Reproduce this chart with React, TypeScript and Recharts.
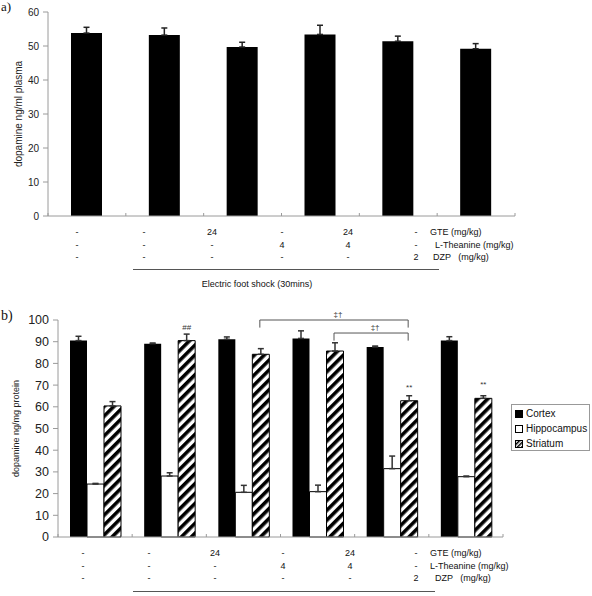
import React from "react";
import { BarChart, Bar, XAxis, YAxis, ErrorBar, LabelList, usePlotArea } from "recharts";

// treatment groups (same six groups in both panels)
const groups = ["G1", "G2", "G3", "G4", "G5", "G6"];
const gteDose = ["-", "-", "24", "-", "24", "-"];
const theanineDose = ["-", "-", "-", "4", "4", "-"];
const dzpDose = ["-", "-", "-", "-", "-", "2"];
const doseLabels = ["GTE (mg/kg)", "L-Theanine (mg/kg)", "DZP   (mg/kg)"];

// panel a: plasma dopamine
const plasmaMean = [53.8, 53.2, 49.7, 53.4, 51.4, 49.2];
const plasmaErr = [1.7, 2.1, 1.4, 2.7, 1.5, 1.5];
const plasmaTicks = [0, 10, 20, 30, 40, 50, 60];

// panel b: brain regions
const cortexMean = [90.5, 89.1, 91.1, 91.5, 87.6, 90.5];
const cortexErr = [2.0, 0.3, 1.1, 3.5, 0.4, 1.8];
const hippoMean = [24.4, 28.1, 20.6, 20.9, 31.5, 27.8];
const hippoErr = [0.3, 1.5, 3.2, 3.0, 5.8, 0.3];
const striatumMean = [60.4, 90.5, 84.2, 85.7, 62.8, 63.9];
const striatumErr = [2.0, 3.0, 2.6, 3.8, 2.3, 1.2];
const striatumMark = ["", "##", "", "", "**", "**"];
const brainTicks = [0, 10, 20, 30, 40, 50, 60, 70, 80, 90, 100];

// significance brackets between striatum bars
const bracketFrom = [2, 3];
const bracketTo = [4, 4];
const bracketLevel = [100, 94];
const bracketLabel = ["‡†", "‡†"];

const plasmaData = groups.map((g, i) => ({
  group: g,
  mean: plasmaMean[i],
  err: [0, plasmaErr[i]],
}));

const brainData = groups.map((g, i) => ({
  group: g,
  cortex: cortexMean[i],
  cortexErr: [0, cortexErr[i]],
  hippo: hippoMean[i],
  hippoErr: [0, hippoErr[i]],
  striatum: striatumMean[i],
  striatumErr: [0, striatumErr[i]],
  mark: striatumMark[i],
}));

const AXIS = "#9a9a9a";
const B_BAR = 17;
const B_MAX = 100;

const BandTicks = ({ n }: { n: number }) => {
  const area = usePlotArea();
  if (!area) return null;
  const band = area.width / n;
  const yb = area.y + area.height;
  return (
    <g>
      {Array.from({ length: n + 1 }, (_, i) => (
        <line key={i} x1={area.x + band * i} x2={area.x + band * i} y1={yb} y2={yb - 3} stroke={AXIS} />
      ))}
    </g>
  );
};

const Brackets = () => {
  const area = usePlotArea();
  if (!area) return null;
  const band = area.width / groups.length;
  const pad = Math.floor((band - 3 * B_BAR) / 2);
  const cx = (i: number) => area.x + band * i + pad + 2.5 * B_BAR;
  const yv = (v: number) => area.y + area.height * (1 - v / B_MAX);
  return (
    <g>
      {bracketFrom.map((from, k) => {
        const x1 = cx(from);
        const x2 = cx(bracketTo[k]);
        const y = yv(bracketLevel[k]);
        const yd = yv(bracketLevel[k] - 3.5);
        return (
          <g key={k}>
            <polyline points={`${x1},${yd} ${x1},${y} ${x2},${y} ${x2},${yd}`} fill="none" stroke="#555" />
            <text x={(x1 + x2) / 2 + 4} y={y - 3} fontSize={8} textAnchor="middle" fill="#333">
              {bracketLabel[k]}
            </text>
          </g>
        );
      })}
    </g>
  );
};

const DoseTable = ({ top, cols, labelX, line }: { top: number; cols: number[]; labelX: number[]; line: number[] }) => {
  const rows = [gteDose, theanineDose, dzpDose];
  return (
    <>
      {rows.map((row, r) => (
        <React.Fragment key={r}>
          {row.map((v, c) => (
            <div
              key={c}
              style={{ position: "absolute", left: cols[c] - 20, width: 40, top: top + r * 12.7 - 6, lineHeight: "12px", textAlign: "center" }}
            >
              {v}
            </div>
          ))}
          <div style={{ position: "absolute", left: labelX[r], top: top + r * 12.7 - 6, lineHeight: "12px", whiteSpace: "pre" }}>
            {doseLabels[r]}
          </div>
        </React.Fragment>
      ))}
      <div style={{ position: "absolute", left: line[0], width: line[1] - line[0], top: line[2], height: 1, background: "#555" }} />
    </>
  );
};

const Swatch = ({ kind }: { kind: string }) => (
  <svg width={8} height={8} style={{ marginRight: 3, verticalAlign: "-1px" }}>
    <defs>
      <pattern id="hatchSmall" patternUnits="userSpaceOnUse" width={3} height={3} patternTransform="rotate(45)">
        <rect width={1.5} height={3} fill="#000" />
      </pattern>
    </defs>
    <rect
      x={0.5}
      y={0.5}
      width={7}
      height={7}
      fill={kind === "c" ? "#000" : kind === "h" ? "#fff" : "url(#hatchSmall)"}
      stroke="#000"
    />
  </svg>
);

export default function App() {
  return (
    <div
      style={{
        position: "absolute",
        left: 0,
        top: 0,
        width: 592,
        height: 596,
        background: "#fff",
        fontFamily: "'Liberation Sans', Arial, sans-serif",
        color: "#111",
        fontSize: 9,
        overflow: "hidden",
      }}
    >
      <div style={{ position: "absolute", left: 1, top: 0, lineHeight: "14px", fontFamily: "'Liberation Serif', serif", fontSize: 13 }}>a)</div>
      <div style={{ position: "absolute", left: 1, top: 308, lineHeight: "16px", fontFamily: "'Liberation Serif', serif", fontSize: 14 }}>b)</div>

      {/* panel a */}
      <div style={{ position: "absolute", left: 0, top: 0 }}>
        <BarChart width={592} height={230} data={plasmaData} margin={{ top: 12, right: 77, bottom: 10, left: 0 }} barCategoryGap="30%">
          <XAxis dataKey="group" tick={false} tickLine={false} height={4} stroke={AXIS} />
          <YAxis
            width={48}
            domain={[0, 60]}
            ticks={plasmaTicks}
            stroke={AXIS}
            tickSize={5}
            tickMargin={4}
            tick={{ fontSize: 10, fill: "#222" }}
            label={{ value: "dopamine ng/ml plasma", angle: -90, position: "insideLeft", offset: 18, fontSize: 10, fill: "#222", style: { textAnchor: "middle" } }}
          />
          <Bar dataKey="mean" fill="#000" barSize={31} isAnimationActive={false}>
            <ErrorBar dataKey="err" width={3} stroke="#222" direction="y" />
          </Bar>
          <BandTicks n={groups.length} />
        </BarChart>
      </div>
      <DoseTable top={232} cols={[77, 144, 212, 282, 348, 416]} labelX={[430, 435, 433]} line={[133, 439, 269]} />
      <div style={{ position: "absolute", left: 157, width: 200, top: 278, lineHeight: "12px", textAlign: "center" }}>
        Electric foot shock (30mins)
      </div>

      {/* panel b */}
      <div style={{ position: "absolute", left: 0, top: 300 }}>
        <BarChart width={592} height={250} data={brainData} margin={{ top: 20, right: 89, bottom: 9, left: 0 }} barGap={0}>
          <defs>
            <pattern id="hatch" patternUnits="userSpaceOnUse" width={7} height={7} patternTransform="rotate(45)">
              <rect width={7} height={7} fill="#fff" />
              <rect width={3.6} height={7} fill="#000" />
            </pattern>
          </defs>
          <XAxis dataKey="group" tick={false} tickLine={false} height={4} stroke={AXIS} />
          <YAxis
            width={58}
            domain={[0, B_MAX]}
            ticks={brainTicks}
            stroke={AXIS}
            tickSize={5}
            tickMargin={4}
            tick={{ fontSize: 12.5, fill: "#222" }}
            label={{ value: "dopamine ng/mg protein", angle: -90, position: "insideLeft", offset: 16, fontSize: 9, fill: "#222", style: { textAnchor: "middle" } }}
          />
          <Bar dataKey="cortex" fill="#000" barSize={B_BAR} isAnimationActive={false}>
            <ErrorBar dataKey="cortexErr" width={3} stroke="#333" direction="y" />
          </Bar>
          <Bar dataKey="hippo" fill="#fff" stroke="#000" strokeWidth={1} barSize={B_BAR} isAnimationActive={false}>
            <ErrorBar dataKey="hippoErr" width={3} stroke="#333" direction="y" />
          </Bar>
          <Bar dataKey="striatum" fill="url(#hatch)" stroke="#000" strokeWidth={1} barSize={B_BAR} isAnimationActive={false}>
            <ErrorBar dataKey="striatumErr" width={3} stroke="#333" direction="y" />
            <LabelList dataKey="mark" position="top" offset={11} fontSize={8} fill="#333" />
          </Bar>
          <BandTicks n={groups.length} />
          <Brackets />
        </BarChart>
      </div>
      <div
        style={{
          position: "absolute",
          left: 511,
          top: 404,
          width: 79,
          height: 47,
          border: "1px solid #999",
          fontSize: 10,
          lineHeight: "15px",
          paddingTop: 1,
          paddingLeft: 3,
          boxSizing: "border-box",
          whiteSpace: "nowrap",
        }}
      >
        <div><Swatch kind="c" />Cortex</div>
        <div><Swatch kind="h" />Hippocampus</div>
        <div><Swatch kind="s" />Striatum</div>
      </div>
      <DoseTable top={553} cols={[83, 149, 215, 283, 350, 416]} labelX={[430, 430, 435]} line={[133, 435, 591]} />
    </div>
  );
}
